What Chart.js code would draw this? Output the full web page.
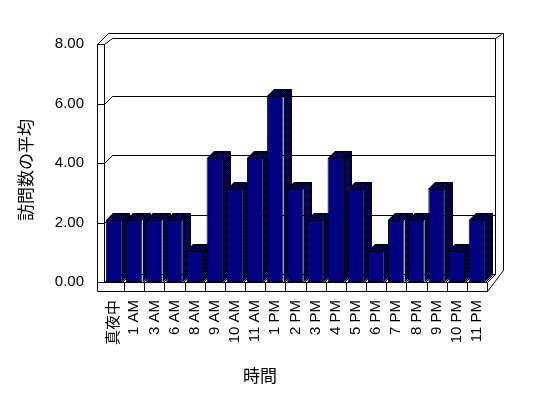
<!DOCTYPE html>
<html>
<head>
<meta charset="utf-8">
<script src="https://cdn.jsdelivr.net/npm/chart.js@4/dist/chart.umd.min.js"></script>
<style>
  body { margin: 0; background: #fff; }
  #wrap { width: 548px; height: 398px; }
</style>
</head>
<body>
<div id="wrap"><canvas id="visits"></canvas></div>
<script>
// 時間帯ごとの訪問数の平均
var hours = ["真夜中", "1 AM", "3 AM", "6 AM", "8 AM", "9 AM", "10 AM", "11 AM", "1 PM", "2 PM",
             "3 PM", "4 PM", "5 PM", "6 PM", "7 PM", "8 PM", "9 PM", "10 PM", "11 PM"];
var visits = [2.08, 2.08, 2.08, 2.08, 1.04, 4.17, 3.13, 4.17, 6.25, 3.13,
              2.08, 4.17, 3.13, 1.04, 2.08, 2.08, 3.13, 1.04, 2.08];
var yMin = 0, yMax = 8, yStep = 2;
var xTitle = "時間";
var yTitle = "訪問数の平均";

var NAVY = "#000080";
var FONT = "Liberation Sans, 'Noto Sans CJK JP', sans-serif";
var CJK = "'Noto Sans CJK JP', sans-serif";

// dithered navy/black like the old 3D shading
var dot = document.createElement("canvas");
dot.width = 2; dot.height = 2;
var dctx = dot.getContext("2d");
dctx.fillStyle = "#000"; dctx.fillRect(0, 0, 2, 2);
dctx.fillStyle = NAVY; dctx.fillRect(0, 0, 1, 1); dctx.fillRect(1, 1, 1, 1);

function line(ctx, pts) {
    ctx.beginPath();
    ctx.moveTo(pts[0][0], pts[0][1]);
    for (var i = 1; i < pts.length; i++) ctx.lineTo(pts[i][0], pts[i][1]);
    ctx.stroke();
}

var DEPTH = 8;   // walls
var BAR_D = 7;   // bar depth

var box3d = {
    id: "box3d",
    beforeDatasetsDraw: function(chart) {
        var ctx = chart.ctx, a = chart.chartArea, y = chart.scales.y, x = chart.scales.x;
        var L = a.left, R = Math.round(a.right), T = a.top, B = Math.round(a.bottom);
        var wallL = L - 7, floorB = B + 9;
        ctx.save();
        ctx.strokeStyle = "#000";
        ctx.lineWidth = 1;
        ctx.translate(0.5, 0.5);

        // walls
        line(ctx, [[wallL, floorB], [wallL, T], [L, T], [L, B]]);
        line(ctx, [[wallL, T], [wallL + 11, T - 11], [R + DEPTH + 8, T - 11], [R + DEPTH + 8, B - DEPTH - 4]]);
        line(ctx, [[L, T], [L + DEPTH, T - DEPTH + 2]]);
        line(ctx, [[R + DEPTH, T - DEPTH + 2], [R + DEPTH + 6, T - 10]]);
        line(ctx, [[L + DEPTH, T - DEPTH + 2], [R + DEPTH, T - DEPTH + 2], [R + DEPTH, B - DEPTH]]);

        // gridlines on the back wall
        for (var v = yMin; v <= yMax; v += yStep) {
            var py = Math.round(y.getPixelForValue(v));
            if (v === yMax) continue;
            line(ctx, [[wallL, py], [L, py], [L + DEPTH, py - DEPTH], [R + DEPTH, py - DEPTH]]);
        }

        // floor slab
        line(ctx, [[wallL, floorB], [R, floorB], [R, B], [wallL, B]]);
        line(ctx, [[R, floorB], [R + DEPTH + 8, B - DEPTH - 4]]);
        line(ctx, [[R, B], [R + DEPTH, B - DEPTH]]);
        for (var i = 1; i < hours.length; i++) {
            var px = Math.round((x.getPixelForTick(i - 1) + x.getPixelForTick(i)) / 2);
            line(ctx, [[px, B], [px, floorB]]);
        }
        ctx.restore();

        // bar tops and sides, left to right
        var pat = ctx.createPattern(dot, "repeat");
        var meta = chart.getDatasetMeta(0);
        ctx.save();
        ctx.strokeStyle = "#000";
        ctx.lineWidth = 1;
        meta.data.forEach(function(bar) {
            var x0 = Math.round(bar.x - bar.width / 2), x1 = Math.round(bar.x + bar.width / 2);
            var top = Math.round(bar.y), base = Math.round(bar.base);
            var d = BAR_D;
            ctx.fillStyle = pat;
            ctx.beginPath();
            ctx.moveTo(x0, top); ctx.lineTo(x0 + d, top - d); ctx.lineTo(x1 + d, top - d);
            ctx.lineTo(x1 + d, base - d); ctx.lineTo(x1, base); ctx.lineTo(x1, top);
            ctx.closePath();
            ctx.fill();
            ctx.save();
            ctx.translate(0.5, 0.5);
            ctx.beginPath();
            ctx.moveTo(x0, top); ctx.lineTo(x0 + d, top - d); ctx.lineTo(x1 + d, top - d);
            ctx.lineTo(x1 + d, base - d); ctx.lineTo(x1, base);
            ctx.moveTo(x1, top); ctx.lineTo(x1 + d, top - d);
            ctx.stroke();
            ctx.restore();
        });
        ctx.restore();
    },
    afterDraw: function(chart) {
        var ctx = chart.ctx;
        ctx.save();
        ctx.fillStyle = "#000";
        ctx.font = "17px " + CJK;
        ctx.textAlign = "center";
        ctx.textBaseline = "middle";
        ctx.fillText(xTitle, 260, 376);
        ctx.translate(26, 170);
        ctx.rotate(-Math.PI / 2);
        ctx.fillText(yTitle, 0, 0);
        ctx.restore();
    }
};

new Chart("visits", {
    type: "bar",
    data: {
        labels: hours,
        datasets: [{
            data: visits,
            backgroundColor: NAVY,
            borderColor: "#000",
            borderWidth: 1,
            borderSkipped: false,
            barPercentage: 0.82,
            categoryPercentage: 1
        }]
    },
    options: {
        responsive: true,
        maintainAspectRatio: false,
        animation: false,
        layout: { padding: { top: 44, right: 61, left: 0, bottom: 0 } },
        plugins: {
            legend: { display: false },
            tooltip: { enabled: false }
        },
        scales: {
            y: {
                min: yMin,
                max: yMax,
                afterFit: function(scale) { scale.width = 104; },
                grid: { display: false, drawTicks: false },
                border: { display: false },
                ticks: {
                    stepSize: yStep,
                    padding: 20,
                    color: "#000",
                    font: { family: FONT, size: 15 },
                    callback: function(v) { return v.toFixed(2); }
                }
            },
            x: {
                afterFit: function(scale) { scale.height = 116; },
                grid: { display: false, drawTicks: false },
                border: { display: false },
                ticks: {
                    autoSkip: false,
                    minRotation: 90,
                    maxRotation: 90,
                    padding: 18,
                    color: "#000",
                    font: { family: FONT, size: 15 }
                }
            }
        }
    },
    plugins: [box3d]
});
</script>
</body>
</html>
